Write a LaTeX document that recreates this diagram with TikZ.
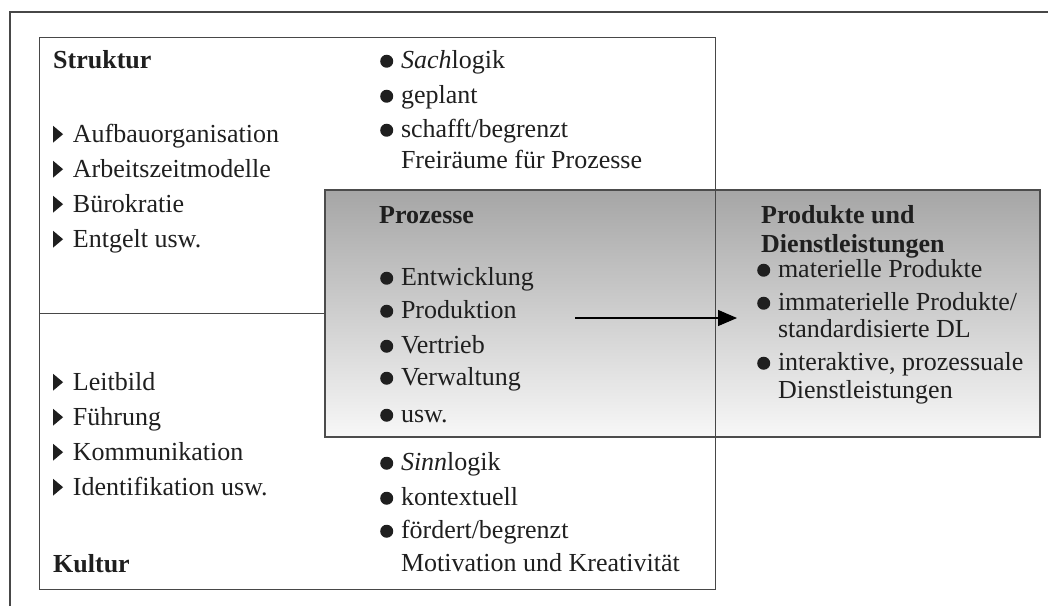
\documentclass[tikz,border=0pt]{standalone}
\usepackage{fontspec}
\setmainfont{Liberation Serif}
\usetikzlibrary{arrows.meta}

% list markers drawn inline: round bullet and small right-pointing triangle
\newcommand\bmark{\tikz[baseline=0pt]\fill (0.26em,0.26em) circle[radius=0.25em];\hspace{0.3em}}
\newcommand\tmark{\tikz[baseline=0pt]\fill (0,-0.02em) -- (0,0.62em) -- (0.38em,0.3em) -- cycle;\hspace{0.38em}}

\begin{document}
\begin{tikzpicture}[x=1pt,y=-1pt,
  txt/.style={anchor=base west, inner sep=0pt, text=black!88,
              font=\fontsize{26}{31}\selectfont},
  head/.style={txt, font=\fontsize{26}{31}\selectfont\bfseries},
  frame/.style={draw=black!72, line width=1.4pt},
  flowbox/.style={draw=black!70, line width=2pt, anchor=north west,
                  inner sep=0pt, top color=black!35, middle color=black!15,
                  bottom color=black!3},
  flow/.style={draw=black, line width=1.2pt, -{Triangle[length=19pt,width=16pt]}},
]
\useasboundingbox (0,0) rectangle (1048,606);

% outer frame (only its top and left edges fall inside the picture)
\coordinate (fbl) at (10,606);
\coordinate (ftl) at (10,12);
\coordinate (ftr) at (1048,12);
\draw[frame] (fbl) -- (ftl) -- (ftr);

% shaded band: Prozesse and Produkte/Dienstleistungen
\node[flowbox, minimum width=715pt, minimum height=247pt] (proc) at (324,189) {};

% Struktur/Kultur box and the divider between the two halves
\node[frame, anchor=north west, inner sep=0pt,
      minimum width=676pt, minimum height=552pt] (org) at (39,37) {};
\draw[frame] (org.west) -- (proc.west |- org.west);

% arrow from the processes to their results
\coordinate (astart) at (575,318);
\coordinate (aend) at (737,318);
\draw[flow] (astart) -- (aend);

% Struktur
\node[head] (struk) at (53,68) {Struktur};
\node[txt] (s1) at (53,142) {\tmark Aufbauorganisation};
\node[txt] (s2) at (53,177) {\tmark Arbeitszeitmodelle};
\node[txt] (s3) at (53,212) {\tmark Bürokratie};
\node[txt] (s4) at (53,247) {\tmark Entgelt usw.};

\node[txt] (l1) at (380,68) {\bmark\textit{Sach}logik};
\node[txt] (l2) at (380,103) {\bmark geplant};
\node[txt] (l3) at (380,137) {\bmark\begin{tabular}[t]{@{}l@{}}schafft/begrenzt\\Freiräume für Prozesse\end{tabular}};

% Prozesse
\node[head] (proz) at (379,223) {Prozesse};
\node[txt] (p1) at (380,285) {\bmark Entwicklung};
\node[txt] (p2) at (380,318) {\bmark Produktion};
\node[txt] (p3) at (380,353) {\bmark Vertrieb};
\node[txt] (p4) at (380,385) {\bmark Verwaltung};
\node[txt] (p5) at (380,422) {\bmark usw.};

% Produkte und Dienstleistungen
\node[head] (prod) at (761,223) {\begin{tabular}[t]{@{}l@{}}Produkte und\\[-2pt]Dienstleistungen\end{tabular}};
\node[txt] (d1) at (757,277) {\bmark materielle Produkte};
\node[txt] (d2) at (757,310) {\bmark\begin{tabular}[t]{@{}l@{}}immaterielle Produkte/\\[-4pt]standardisierte DL\end{tabular}};
\node[txt] (d3) at (757,370) {\bmark\begin{tabular}[t]{@{}l@{}}interaktive, prozessuale\\[-3pt]Dienstleistungen\end{tabular}};

% Kultur
\node[txt] (k1) at (53,390) {\tmark Leitbild};
\node[txt] (k2) at (53,425) {\tmark Führung};
\node[txt] (k3) at (53,460) {\tmark Kommunikation};
\node[txt] (k4) at (53,495) {\tmark Identifikation usw.};
\node[head] (kult) at (53,572) {Kultur};

\node[txt] (m1) at (380,470) {\bmark\textit{Sinn}logik};
\node[txt] (m2) at (380,505) {\bmark kontextuell};
\node[txt] (m3) at (380,538) {\bmark\begin{tabular}[t]{@{}l@{}}fördert/begrenzt\\[2pt]Motivation und Kreativität\end{tabular}};
\end{tikzpicture}
\end{document}
